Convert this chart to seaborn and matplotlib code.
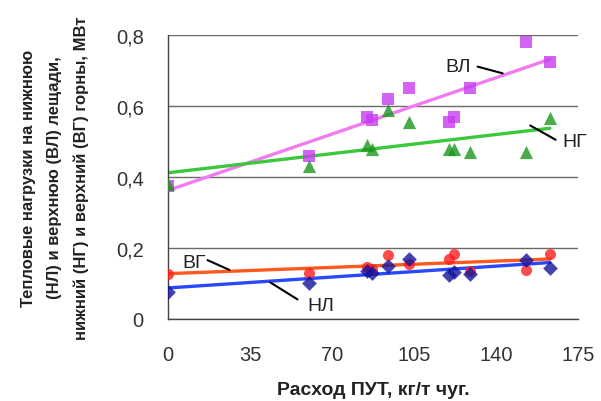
import numpy as np
import pandas as pd
import matplotlib
matplotlib.use("Agg")
import matplotlib.pyplot as plt
from matplotlib.ticker import FuncFormatter
import seaborn as sns

# PCI consumption, kg/t pig iron
put = [0, 60, 85, 87, 94, 103, 120, 122, 129, 153, 163]

# heat loads, MW
vl = [0.375, 0.46, 0.57, 0.56, 0.62, 0.65, 0.555, 0.57, 0.65, 0.78, 0.725]   # upper hearth bottom
ng = [0.38, 0.43, 0.49, 0.48, 0.59, 0.555, 0.48, 0.48, 0.47, 0.47, 0.565]  # lower hearth
vg = [0.127, 0.13, 0.146, 0.14, 0.18, 0.155, 0.17, 0.183, 0.136, 0.137, 0.183]  # upper hearth
nl = [0.076, 0.10, 0.135, 0.13, 0.15, 0.17, 0.124, 0.132, 0.127, 0.165, 0.143]  # lower hearth bottom

x_ticks = [0, 35, 70, 105, 140, 175]
y_ticks = [0, 0.2, 0.4, 0.6, 0.8]

df = pd.DataFrame({"put": put, "ВЛ": vl, "НГ": ng, "ВГ": vg, "НЛ": nl})

sns.set_style("white")
plt.rcParams["font.family"] = ["Liberation Sans", "DejaVu Sans"]

fig = plt.figure(figsize=(6.01, 4.02), dpi=100)
ax = fig.add_axes([0.2795, 0.204, 0.6822, 0.7064])

series = [
    ("ВЛ", "s", "#c83cf0", "#f07cf0", 8),
    ("НГ", "^", "#1c961c", "#3cc83c", 9.5),
    ("ВГ", "o", "#ff1e1e", "#ff5a1e", 8),
    ("НЛ", "D", "#14149c", "#2a48ff", 7.5),
]
for name, mk, c_pt, c_ln, ms in series:
    sns.regplot(data=df, x="put", y=name, ax=ax, ci=None, marker=mk,
                scatter_kws=dict(color=c_pt, s=ms ** 2, linewidths=0, zorder=3),
                line_kws=dict(color=c_ln, lw=2.4, zorder=2))

ax.set_xlim(0, 175)
ax.set_ylim(0, 0.8)
ax.set_xticks(x_ticks)
ax.set_yticks(y_ticks)
ax.yaxis.set_major_formatter(FuncFormatter(lambda v, p: "0" if v == 0 else f"{v:.1f}".replace(".", ",")))
ax.grid(axis="y", color="#6a6a6a", lw=1)
ax.grid(axis="x", visible=False)
for s in ["top", "right"]:
    ax.spines[s].set_visible(False)
for s in ["left", "bottom"]:
    ax.spines[s].set_color("#444444")
    ax.spines[s].set_linewidth(1)
ax.tick_params(axis="both", direction="out", length=6.5, width=1, color="#444444",
               labelsize=14.5, labelcolor="#333333")
ax.tick_params(axis="x", pad=12)
ax.tick_params(axis="y", pad=11)

ax.set_xlabel("Расход ПУТ, кг/т чуг.", fontsize=14, fontweight="bold", color="#222222")
ax.xaxis.set_label_coords(0.5, -0.218)
ax.set_ylabel("Тепловые нагрузки на нижнюю\n(НЛ) и верхнюю (ВЛ) лещади,\nнижний (НГ) и верхний (ВГ) горны, МВт",
              fontsize=12, fontweight="bold", color="#222222", linespacing=1.9)
ax.yaxis.set_label_coords(-0.193, 0.5)

# curve labels with leader lines
labels = [
    ("ВЛ", (118.5, 0.71), (131, 0.713), (144, 0.69)),
    ("НГ", (168.5, 0.5), (153.6, 0.549), (166.5, 0.501)),
    ("ВГ", (6, 0.16), (15.8, 0.169), (27.3, 0.135)),
    ("НЛ", (59.3, 0.037), (42.7, 0.107), (56.3, 0.051)),
]
for txt, pos, p0, p1 in labels:
    ax.text(pos[0], pos[1], txt, fontsize=14, color="#222222", va="center", ha="left",
            clip_on=False, zorder=5)
    ax.annotate("", xy=p1, xytext=p0, arrowprops=dict(arrowstyle="-", color="black", lw=1.5),
                annotation_clip=False, zorder=5)

fig.savefig("out.png", dpi=100)
